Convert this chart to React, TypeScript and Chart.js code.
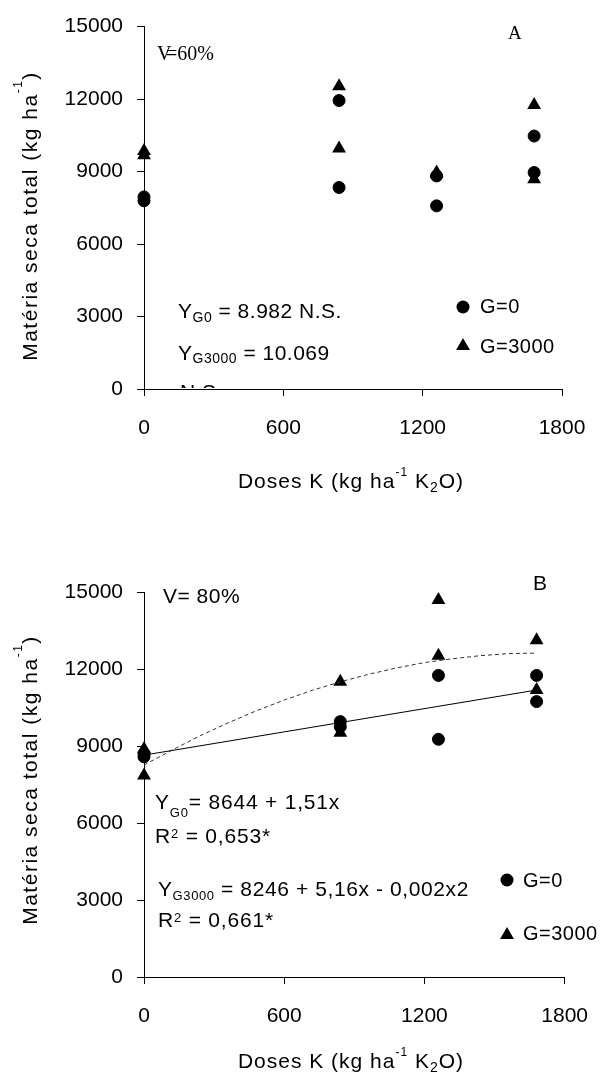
import React, { useEffect, useRef } from "react";
import { Chart, registerables } from "chart.js";
Chart.register(...registerables);

const SANS = "'Liberation Sans', Arial, sans-serif";
const SERIF = "'Liberation Serif', 'Times New Roman', serif";

const xTicks = [0, 600, 1200, 1800];
const yTicks = [0, 3000, 6000, 9000, 12000, 15000];

// doses (two replicates per dose)
const doseReps = [0, 0, 840, 840, 1260, 1260, 1680, 1680];

// Panel A: V = 60%
const aG0 = [7950, 7790, 11940, 8340, 8820, 7580, 10470, 8960];
const aG3000 = [9850, 9680, 12530, 9950, 8960, 8900, 11750, 8680];

// Panel B: V = 80%
const bG0 = [8700, 8580, 9950, 9750, 11750, 9260, 11750, 10730];
const bG3000 = [8880, 7850, 11500, 9520, 14690, 12520, 13120, 11180];

// Panel B fitted curves
const bFitG0Dose = [0, 1680];
const bFitG0 = [8644, 11181];
const bFitG3000Dose = [0, 120, 240, 360, 480, 600, 720, 840, 960, 1080, 1200, 1320, 1440, 1560, 1680];
const bFitG3000 = [8260, 8840, 9400, 9900, 10370, 10790, 11170, 11500, 11790, 12040, 12250, 12400, 12520, 12600, 12620];

type Seg = { t: string; size?: number; dy?: number; family?: string };

function setFont(ctx: CanvasRenderingContext2D, s: Seg, size: number, family: string, sp: number) {
  ctx.font = `${s.size ?? size}px ${s.family ?? family}`;
  (ctx as any).letterSpacing = `${sp}px`;
}
function richWidth(ctx: CanvasRenderingContext2D, segs: Seg[], size: number, family: string, sp = 0) {
  let w = 0;
  for (const s of segs) {
    setFont(ctx, s, size, family, sp);
    w += ctx.measureText(s.t).width;
  }
  return w;
}
function rich(ctx: CanvasRenderingContext2D, x: number, y: number, segs: Seg[], size: number, family: string, sp = 0) {
  let cx = x;
  for (const s of segs) {
    setFont(ctx, s, size, family, sp);
    ctx.fillText(s.t, cx, y + (s.dy ?? 0));
    cx += ctx.measureText(s.t).width;
  }
  (ctx as any).letterSpacing = "0px";
}
function dot(ctx: CanvasRenderingContext2D, x: number, y: number, r: number) {
  ctx.beginPath();
  ctx.arc(x, y, r, 0, Math.PI * 2);
  ctx.fill();
}
function tri(ctx: CanvasRenderingContext2D, x: number, y: number, r: number) {
  ctx.beginPath();
  for (let i = 0; i < 3; i++) {
    const a = (i * 2 * Math.PI) / 3;
    const px = x + Math.sin(a) * r;
    const py = y - Math.cos(a) * r;
    if (i === 0) ctx.moveTo(px, py);
    else ctx.lineTo(px, py);
  }
  ctx.closePath();
  ctx.fill();
}

function yTitle(ctx: CanvasRenderingContext2D, cy: number) {
  ctx.save();
  ctx.translate(30, cy);
  ctx.rotate(-Math.PI / 2);
  const segs: Seg[] = [{ t: "Matéria seca total (kg ha" }, { t: "-1", size: 12, dy: -15 }, { t: ")" }];
  const w = richWidth(ctx, segs, 21, SANS, 1.5);
  rich(ctx, -w / 2, 7, segs, 21, SANS, 1.5);
  ctx.restore();
}
function xTitle(ctx: CanvasRenderingContext2D, cx: number, base: number) {
  const segs: Seg[] = [
    { t: "Doses K (kg ha" },
    { t: "-1", size: 12, dy: -12 },
    { t: " K" },
    { t: "2", size: 14, dy: 4 },
    { t: "O)" },
  ];
  const w = richWidth(ctx, segs, 21, SANS, 1);
  rich(ctx, cx - w / 2, base, segs, 21, SANS, 1);
}

function toPts(xs: number[], ys: number[]) {
  return ys.map((y, i) => ({ x: xs[i], y }));
}

function makeConfig(p: {
  padTop: number;
  padRight: number;
  xAxisH: number;
  datasets: any[];
  draw: (ctx: CanvasRenderingContext2D, chart: any) => void;
}): any {
  return {
    type: "scatter",
    data: { datasets: p.datasets },
    options: {
      responsive: false,
      animation: false,
      events: [],
      layout: { autoPadding: false, padding: { top: p.padTop, right: p.padRight, left: 0, bottom: 0 } },
      plugins: { legend: { display: false }, tooltip: { enabled: false } },
      scales: {
        x: {
          type: "linear",
          min: 0,
          max: 1800,
          afterBuildTicks: (s: any) => {
            s.ticks = xTicks.map((v) => ({ value: v }));
          },
          afterFit: (s: any) => {
            s.height = p.xAxisH;
          },
          ticks: {
            font: { family: SANS, size: 21 },
            color: "#000",
            padding: 20,
            maxRotation: 0,
            autoSkip: false,
            callback: (v: any) => String(v),
          },
          grid: { drawOnChartArea: false, drawTicks: true, tickLength: 7, color: "#000", lineWidth: 1 },
          border: { display: true, color: "#000", width: 1 },
        },
        y: {
          type: "linear",
          min: 0,
          max: 15000,
          afterBuildTicks: (s: any) => {
            s.ticks = yTicks.map((v) => ({ value: v }));
          },
          afterFit: (s: any) => {
            s.width = 144;
          },
          ticks: {
            font: { family: SANS, size: 21 },
            color: "#000",
            padding: 14,
            autoSkip: false,
            callback: (v: any) => String(v),
          },
          grid: { drawOnChartArea: false, drawTicks: true, tickLength: 7, color: "#000", lineWidth: 1 },
          border: { display: true, color: "#000", width: 1 },
        },
      },
    },
    plugins: [
      {
        id: "annot",
        afterDraw: (chart: any) => {
          const ctx = chart.ctx as CanvasRenderingContext2D;
          ctx.save();
          ctx.fillStyle = "#000";
          ctx.textAlign = "left";
          ctx.textBaseline = "alphabetic";
          p.draw(ctx, chart);
          ctx.restore();
        },
      },
    ],
  };
}

const circleDs = (data: any[]) => ({
  data,
  pointStyle: "circle",
  pointRadius: 6,
  backgroundColor: "#000",
  borderColor: "#000",
  borderWidth: 1,
  showLine: false,
  clip: false,
});
const triDs = (data: any[]) => ({
  data,
  pointStyle: "triangle",
  pointRadius: 8,
  backgroundColor: "#000",
  borderColor: "#000",
  borderWidth: 0,
  showLine: false,
  clip: false,
});

const configA = makeConfig({
  padTop: 25,
  padRight: 46,
  xAxisH: 530 - 389,
  datasets: [circleDs(toPts(doseReps, aG0)), triDs(toPts(doseReps, aG3000))],
  draw: (ctx, chart) => {
    yTitle(ctx, 216);
    xTitle(ctx, 351, 488);
    // V=60%
    ctx.font = `20px ${SERIF}`;
    ctx.fillText("V", 157, 60);
    ctx.fillText("=60%", 166, 60);
    ctx.font = `19px ${SERIF}`;
    ctx.fillText("A", 508, 39);
    rich(ctx, 178, 318, [{ t: "Y" }, { t: "G0", size: 14, dy: 4 }, { t: " = 8.982 N.S." }], 21, SANS, 0.5);
    rich(ctx, 178, 360, [{ t: "Y" }, { t: "G3000", size: 14, dy: 3 }, { t: " = 10.069" }], 21, SANS, 0.5);
    const a = chart.chartArea;
    ctx.save();
    ctx.beginPath();
    ctx.rect(a.left, a.top, a.right - a.left, a.bottom - a.top - 1);
    ctx.clip();
    rich(ctx, 180, 399, [{ t: "N.S." }], 21, SANS, 0.5);
    ctx.restore();
    // legend
    dot(ctx, 463, 307, 6.5);
    rich(ctx, 480, 313, [{ t: "G=0" }], 20, SANS, 0.5);
    tri(ctx, 463, 346, 8);
    rich(ctx, 480, 353, [{ t: "G=3000" }], 20, SANS, 0.5);
  },
});

const configB = makeConfig({
  padTop: 52,
  padRight: 28,
  xAxisH: 544 - 437,
  datasets: [
    {
      data: toPts(bFitG0Dose, bFitG0),
      showLine: true,
      pointRadius: 0,
      borderColor: "#000",
      borderWidth: 1,
      clip: false,
    },
    {
      data: toPts(bFitG3000Dose, bFitG3000),
      showLine: true,
      pointRadius: 0,
      borderColor: "#333",
      borderWidth: 1,
      borderDash: [4, 3],
      clip: false,
    },
    circleDs(toPts(doseReps, bG0)),
    triDs(toPts(doseReps, bG3000)),
  ],
  draw: (ctx) => {
    yTitle(ctx, 240);
    xTitle(ctx, 351, 528);
    rich(ctx, 163, 63, [{ t: "V= 80%" }], 21, SANS, 0.5);
    rich(ctx, 533, 50, [{ t: "B" }], 21, SANS, 0);
    rich(ctx, 155, 269, [{ t: "Y" }, { t: "G0", size: 13, dy: 8 }, { t: "= 8644 + 1,51x" }], 21, SANS, 0.8);
    rich(ctx, 155, 303, [{ t: "R" }, { t: "2", size: 13, dy: -5 }, { t: " = 0,653*" }], 21, SANS, 0.8);
    rich(ctx, 158, 356, [{ t: "Y" }, { t: "G3000", size: 13, dy: 4 }, { t: " = 8246 + 5,16x - 0,002x2" }], 21, SANS, 0.6);
    rich(ctx, 158, 387, [{ t: "R" }, { t: "2", size: 13, dy: -5 }, { t: " = 0,661*" }], 21, SANS, 0.8);
    dot(ctx, 507, 340, 6.5);
    rich(ctx, 523, 347, [{ t: "G=0" }], 20, SANS, 0.5);
    tri(ctx, 507, 395, 8);
    rich(ctx, 523, 400, [{ t: "G=3000" }], 20, SANS, 0.5);
  },
});

function ChartCanvas({ config, top, height }: { config: any; top: number; height: number }) {
  const ref = useRef<HTMLCanvasElement | null>(null);
  useEffect(() => {
    if (!ref.current) return;
    const chart = new Chart(ref.current, config);
    return () => chart.destroy();
  }, [config]);
  return (
    <canvas
      ref={ref}
      width={608}
      height={height}
      style={{ position: "absolute", left: 0, top, width: 608, height }}
    />
  );
}

export default function App() {
  return (
    <div style={{ position: "absolute", left: 0, top: 0, width: 608, height: 1084, background: "#fff" }}>
      <ChartCanvas config={configA} top={0} height={530} />
      <ChartCanvas config={configB} top={540} height={544} />
    </div>
  );
}
